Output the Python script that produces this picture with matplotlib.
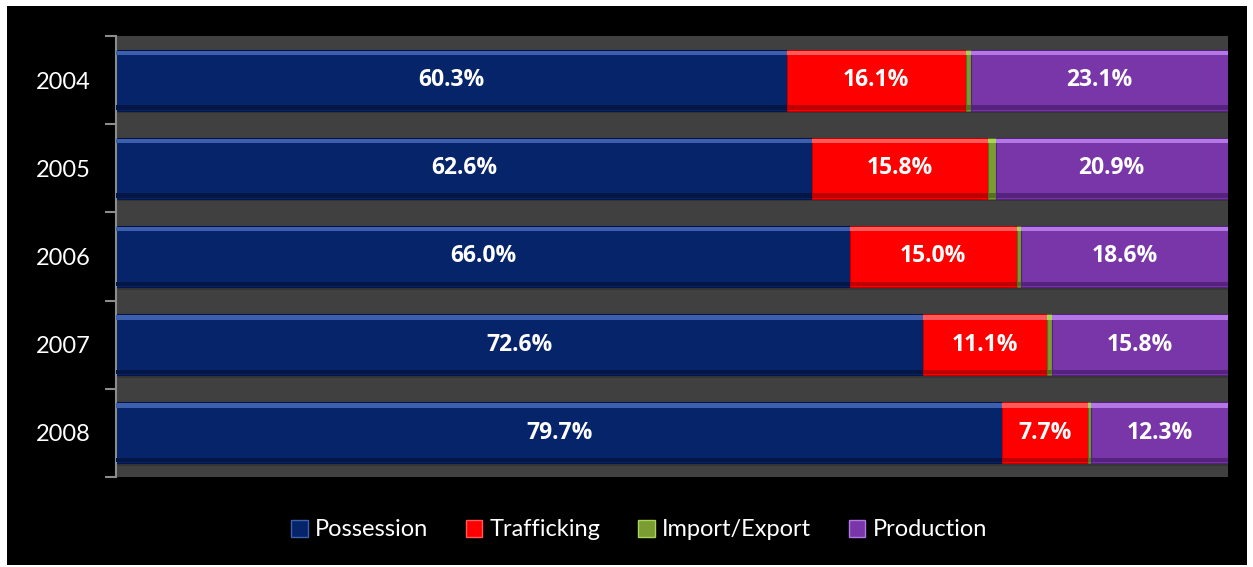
import matplotlib
matplotlib.use("Agg")
import matplotlib.pyplot as plt
from matplotlib.patches import Rectangle, Patch
import numpy as np

years = ["2004", "2005", "2006", "2007", "2008"]
possession = [60.3, 62.6, 66.0, 72.6, 79.7]
trafficking = [16.1, 15.8, 15.0, 11.1, 7.7]
import_export = [0.5, 0.7, 0.4, 0.5, 0.3]
production = [23.1, 20.9, 18.6, 15.8, 12.3]

series = [
    ("Possession", possession, "#06246a", "#3d5fae", "#031646", True),
    ("Trafficking", trafficking, "#ff0000", "#ff5a5a", "#c00000", True),
    ("Import/Export", import_export, "#7a9c32", "#a9d35a", "#55701e", False),
    ("Production", production, "#7836a8", "#b477e6", "#55227d", True),
]

plt.rcParams["font.family"] = ["Lato", "DejaVu Sans"]

fig = plt.figure(figsize=(12.53, 5.67), dpi=100)
fig.patch.set_facecolor("white")
fig.patches.append(Rectangle((7 / 1253, 2 / 567), 1240 / 1253, 559 / 567,
                             transform=fig.transFigure, facecolor="black",
                             edgecolor="none", zorder=-10))

ax = fig.add_axes([116 / 1253, 1 - 477 / 567, 1112 / 1253, 441 / 567])
ax.set_facecolor("#404040")

y = np.arange(len(years))
h = 0.69
strip = 0.05

# soft shadow just under each full bar
ax.barh(y + 0.03, [100] * len(years), height=h, left=0, color="#353535",
        zorder=1, linewidth=0)

left = np.zeros(len(years))
for name, vals, base, light, dark, labelled in series:
    vals = np.array(vals)
    ax.barh(y, vals, height=h, left=left, color=base, zorder=2,
            edgecolor=dark, linewidth=0.8)
    # bevel: light top band, dark bottom band
    ax.barh(y - h / 2 + strip / 2 + 0.01, vals, height=strip, left=left,
            color=light, zorder=3, linewidth=0)
    ax.barh(y + h / 2 - strip / 2 - 0.01, vals, height=strip, left=left,
            color=dark, zorder=3, linewidth=0)
    if labelled:
        for yi, l, v in zip(y, left, vals):
            ax.text(l + v / 2, yi, f"{v:.1f}%", ha="center", va="center",
                    color="white", fontsize=16.5, fontweight="bold",
                    family=["Open Sans", "DejaVu Sans"], zorder=5)
    left = left + vals

ax.set_xlim(0, 100)
ax.set_ylim(len(years) - 0.5, -0.5)

for s in ["top", "right", "bottom"]:
    ax.spines[s].set_visible(False)
ax.spines["left"].set_color("#8c8c8c")
ax.spines["left"].set_linewidth(1.5)
ax.set_xticks([])

ax.set_yticks(np.arange(-0.5, len(years)), labels=[""] * (len(years) + 1))
ax.tick_params(axis="y", which="major", length=8, width=1.5, color="#8c8c8c")
ax.set_yticks(y, labels=years, minor=True)
ax.tick_params(axis="y", which="minor", length=0, pad=18, labelsize=17,
               labelcolor="white")

handles = [Patch(facecolor=base, edgecolor=light, linewidth=1.0, label=name)
           for name, vals, base, light, dark, labelled in series]
leg = fig.legend(handles=handles, loc="center", bbox_to_anchor=(0.51, 1 - 530 / 567),
                 ncol=4, frameon=False, fontsize=17, handlelength=0.7,
                 handleheight=0.7, handletextpad=0.3, columnspacing=1.6)
for t in leg.get_texts():
    t.set_color("white")

fig.savefig("out.png", dpi=100, facecolor=fig.get_facecolor())
